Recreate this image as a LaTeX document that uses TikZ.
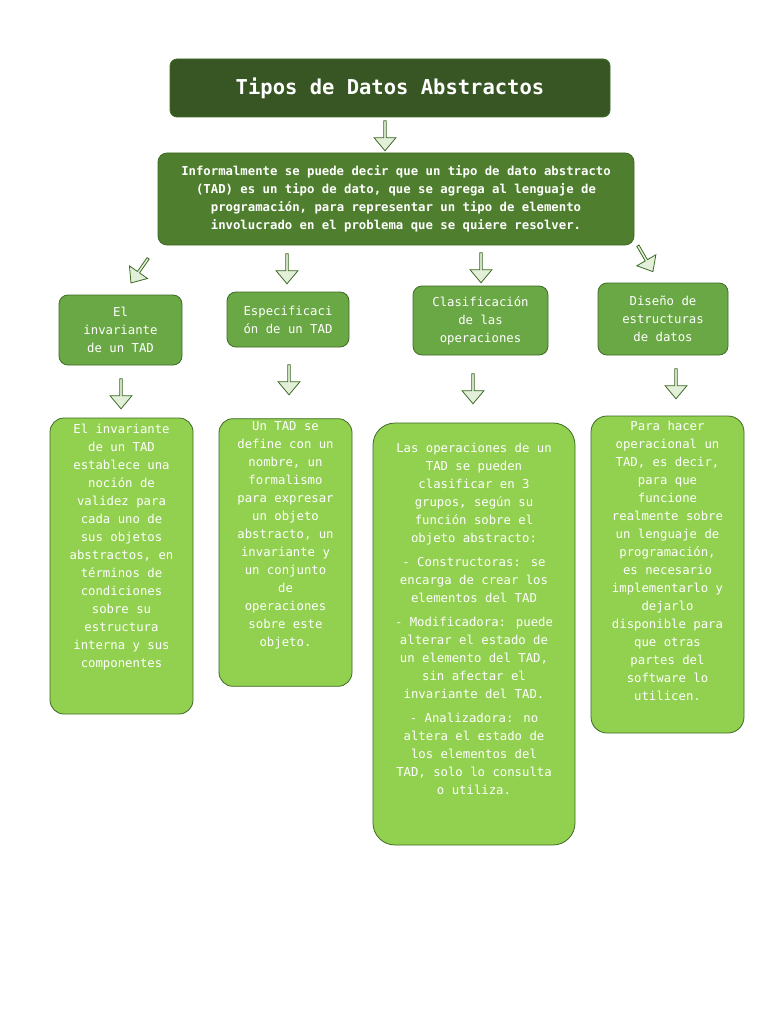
\documentclass[tikz,border=0pt]{standalone}
\usepackage{fontspec}
\setmainfont{DejaVu Sans Mono}
\usetikzlibrary{shapes.arrows}
\definecolor{dk}{HTML}{375623}
\definecolor{mid}{HTML}{4F7F2E}
\definecolor{lv2}{HTML}{6AA845}
\definecolor{lv3}{HTML}{92D050}
\definecolor{arr}{HTML}{E2EFD9}
\definecolor{edge}{HTML}{3E6B25}
\begin{document}
\begin{tikzpicture}[x=1pt,y=-1pt,
 bx/.style={draw=edge,line width=0.8pt,rounded corners=9pt,text=white,align=center,font=\fontsize{12.3}{18}\selectfont},
 ar/.style={single arrow,draw=edge,fill=arr,line width=0.8pt,minimum height=30pt,minimum width=22pt,single arrow head extend=3pt,inner sep=0pt,single arrow tip angle=80}]
\useasboundingbox (0,0) rectangle (768,1024);
\fill[white] (0,0) rectangle (768,1024);
\node[bx,fill=dk,font=\bfseries\fontsize{20.5}{24}\selectfont,rounded corners=7pt] (t) at (390,88) [minimum width=440pt,minimum height=58pt]{Tipos de Datos Abstractos};
\node[bx,fill=mid,font=\bfseries\fontsize{12.3}{18}\selectfont,minimum width=476pt,minimum height=92pt] (i) at (396,199) {Informalmente se puede decir que un tipo de dato abstracto\\(TAD) es un tipo de dato, que se agrega al lenguaje de\\programación, para representar un tipo de elemento\\involucrado en el problema que se quiere resolver.};
\node[bx,fill=lv2,minimum width=123pt,minimum height=70pt] (a) at (120.5,330) {El\\invariante\\de un TAD};
\node[bx,fill=lv2,minimum width=122pt,minimum height=55pt] (b) at (288,319.5) {Especificaci\\ón de un TAD};
\node[bx,fill=lv2,minimum width=135pt,minimum height=69pt] (c) at (480.5,320.5) {Clasificación\\de las\\operaciones};
\node[bx,fill=lv2,minimum width=130pt,minimum height=72pt] (d) at (663,319) {Diseño de\\estructuras\\de datos};
\node[bx,fill=lv3,minimum width=143pt,minimum height=296pt,rounded corners=14pt] (a2) at (121.5,566) {El invariante\\de un TAD\\establece una\\noción de\\validez para\\cada uno de\\sus objetos\\abstractos, en\\términos de\\condiciones\\sobre su\\estructura\\interna y sus\\componentes\\[22pt]};
\node[bx,fill=lv3,minimum width=133pt,minimum height=265pt,rounded corners=14pt] (b2) at (285.5,552.5) {Un TAD se\\define con un\\nombre, un\\formalismo\\para expresar\\un objeto\\abstracto, un\\invariante y\\un conjunto\\de\\operaciones\\sobre este\\objeto.\\[18pt]};
\node[bx,fill=lv3,minimum width=202pt,minimum height=422pt,rounded corners=22pt] (c2) at (474,634) {Las operaciones de un\\TAD se pueden\\clasificar en 3\\grupos, según su\\función sobre el\\objeto abstracto:\\[6pt]- Constructoras: se\\encarga de crear los\\elementos del TAD\\[6pt]- Modificadora: puede\\alterar el estado de\\un elemento del TAD,\\sin afectar el\\invariante del TAD.\\[6pt]- Analizadora: no\\altera el estado de\\los elementos del\\TAD, solo lo consulta\\o utiliza.\\[12pt]};
\node[bx,fill=lv3,minimum width=153pt,minimum height=317pt,rounded corners=16pt] (d2) at (667.5,574.5) {Para hacer\\operacional un\\TAD, es decir,\\para que\\funcione\\realmente sobre\\un lenguaje de\\programación,\\es necesario\\implementarlo y\\dejarlo\\disponible para\\que otras\\partes del\\software lo\\utilicen.\\[10pt]};
\node[ar,rotate=-90] (p1) at (385,135) {};
\node[ar,rotate=-125] (p2) at (140,270) {};
\node[ar,rotate=-90] (p3) at (287,268) {};
\node[ar,rotate=-90] (p4) at (481,267) {};
\node[ar,rotate=-60] (p5) at (645,258) {};
\node[ar,rotate=-90] (p6) at (121,393) {};
\node[ar,rotate=-90] (p7) at (289,379) {};
\node[ar,rotate=-90] (p8) at (473,388) {};
\node[ar,rotate=-90] (p9) at (676,383) {};
\end{tikzpicture}
\end{document}
